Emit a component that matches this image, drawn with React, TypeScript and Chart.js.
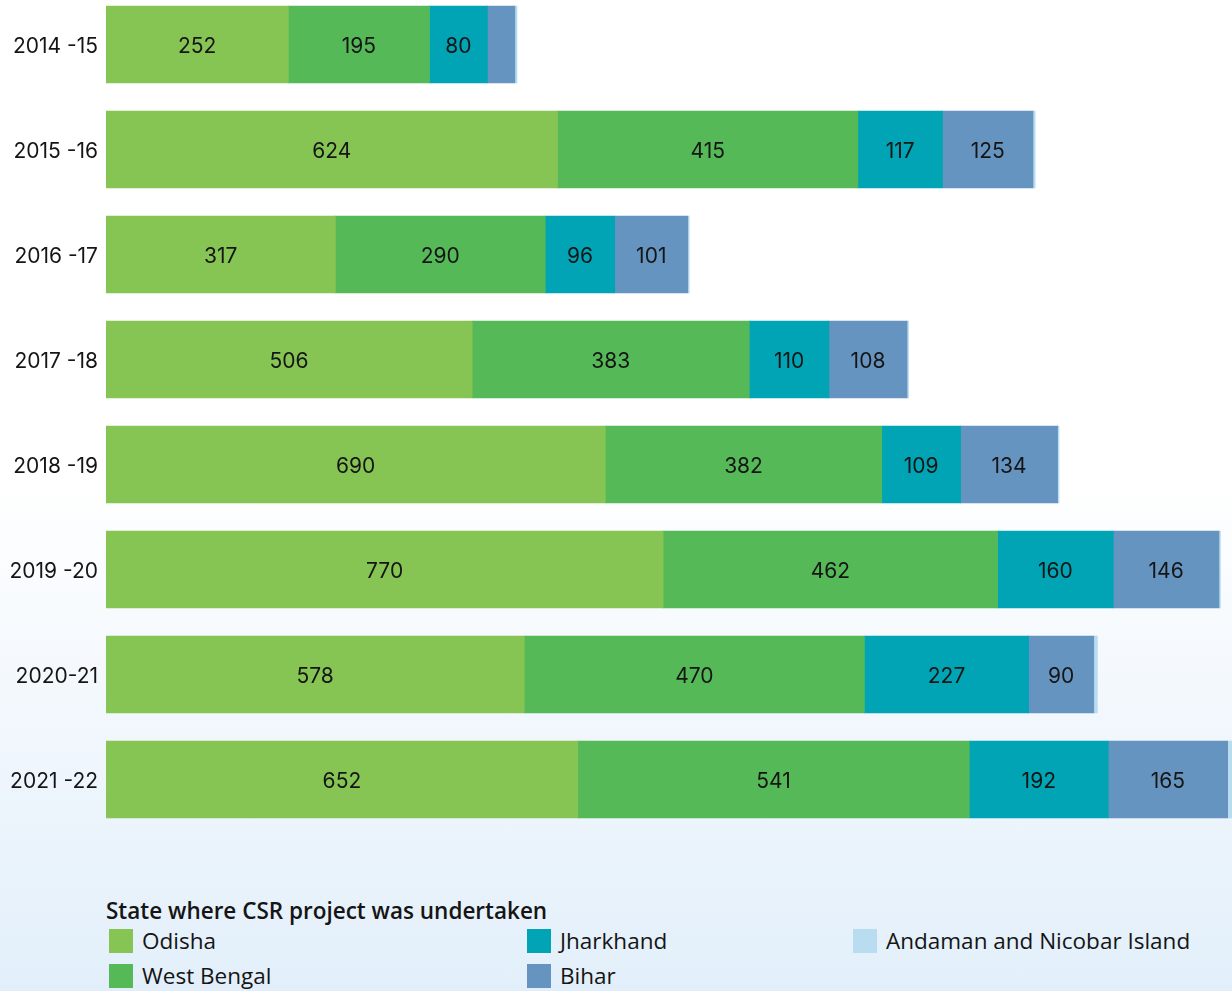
import React, { useEffect, useRef } from "react";
import { Chart, registerables } from "chart.js";

Chart.register(...registerables);

const years = ["2014 -15", "2015 -16", "2016 -17", "2017 -18", "2018 -19", "2019 -20", "2020-21", "2021 -22"];
const odisha = [252, 624, 317, 506, 690, 770, 578, 652];
const westBengal = [195, 415, 290, 383, 382, 462, 470, 541];
const jharkhand = [80, 117, 96, 110, 109, 160, 227, 192];
const bihar = [38, 125, 101, 108, 134, 146, 90, 165];
const andaman = [3, 3, 2, 2, 2, 2, 5, 6];

const seriesNames = ["Odisha", "West Bengal", "Jharkhand", "Bihar", "Andaman and Nicobar Island"];
const seriesColors = ["#86c453", "#55b958", "#00a4b5", "#6594c0", "#b8ddf1"];
const legendTitle = "State where CSR project was undertaken";

const FONT = "Inter, 'Open Sans', sans-serif";
const LEGEND_FONT = "'Open Sans', sans-serif";

const valueLabels = {
  id: "valueLabels",
  afterDatasetsDraw(chart: any) {
    const ctx = chart.ctx;
    ctx.save();
    ctx.font = `21px ${FONT}`;
    ctx.fillStyle = "#151515";
    ctx.textAlign = "center";
    ctx.textBaseline = "middle";
    chart.data.datasets.forEach((ds: any, di: number) => {
      const meta = chart.getDatasetMeta(di);
      meta.data.forEach((bar: any, i: number) => {
        const w = Math.abs(bar.x - bar.base);
        if (w < 40) return;
        const cx = (bar.x + bar.base) / 2;
        ctx.fillText(String(ds.data[i]), cx, bar.y + 2.5);
      });
    });
    ctx.restore();
  },
};

export default function App() {
  const ref = useRef<HTMLCanvasElement>(null);
  useEffect(() => {
    if (!ref.current) return;
    const data = [odisha, westBengal, jharkhand, bihar, andaman];
    const chart = new Chart(ref.current, {
      type: "bar",
      data: {
        labels: years,
        datasets: data.map((d, i) => ({
          label: seriesNames[i],
          data: d,
          backgroundColor: seriesColors[i],
          borderWidth: 0,
          barThickness: 77,
        })),
      },
      options: {
        indexAxis: "y",
        animation: false,
        responsive: false,
        layout: { padding: 0 },
        plugins: { legend: { display: false }, tooltip: { enabled: false } },
        scales: {
          x: { stacked: true, display: false, min: 0, max: 1556 },
          y: {
            stacked: true,
            grid: { display: false, drawTicks: false },
            border: { display: false },
            ticks: { padding: 8, labelOffset: 2, color: "#151515", font: { family: FONT, size: 21 } },
            afterFit(scale: any) {
              scale.width = 106;
              scale.paddingTop = 0;
              scale.paddingBottom = 0;
            },
          },
        },
      },
      plugins: [valueLabels],
    } as any);
    return () => chart.destroy();
  }, []);

  const legendItems = [
    { i: 0, x: 109, y: 929 },
    { i: 1, x: 109, y: 964 },
    { i: 2, x: 527, y: 929 },
    { i: 3, x: 527, y: 964 },
    { i: 4, x: 853, y: 929 },
  ];

  return (
    <div
      style={{
        position: "fixed",
        left: 0,
        top: 0,
        width: 1232,
        height: 991,
        overflow: "hidden",
        background: "linear-gradient(to bottom, #ffffff 0%, #ffffff 48%, #f3f8fd 70%, #e2effa 100%)",
        fontFamily: FONT,
      }}
    >
      <div style={{ position: "absolute", left: 0, top: -8, width: 1232, height: 840 }}>
        <canvas ref={ref} width={1232} height={840} style={{ width: 1232, height: 840 }} />
      </div>
      <div
        style={{
          position: "absolute",
          left: 106,
          top: 897,
          fontSize: 22.5,
          fontWeight: 600,
          color: "#151515",
          lineHeight: "28px",
          whiteSpace: "nowrap",
          fontFamily: LEGEND_FONT,
        }}
      >
        {legendTitle}
      </div>
      {legendItems.map((it) => (
        <div key={it.i} style={{ position: "absolute", left: it.x, top: it.y, height: 24, display: "flex", alignItems: "center", whiteSpace: "nowrap" }}>
          <div style={{ width: 24, height: 24, background: seriesColors[it.i] }} />
          <span style={{ marginLeft: 9, fontSize: 22.5, color: "#151515", fontFamily: LEGEND_FONT, lineHeight: "24px" }}>
            {seriesNames[it.i]}
          </span>
        </div>
      ))}
    </div>
  );
}
